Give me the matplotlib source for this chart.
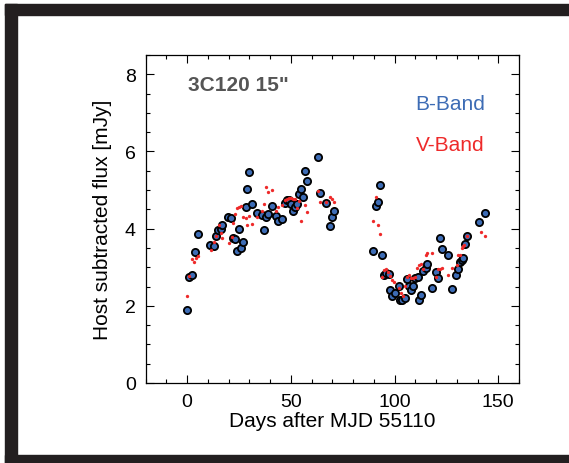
#!/usr/bin/env python3
# -*- coding: utf-8 -*-
"""
Curva de luz 3C120 (apertura 15"), bandas B y V, flujo sin galaxia huésped.
"""
import matplotlib
matplotlib.use('Agg')
import matplotlib.pyplot as plt
from matplotlib.patches import Rectangle

plt.rcParams['font.family'] = ['Liberation Sans', 'DejaVu Sans']

# ── Datos ────────────────────────────────────────────────────────────────────
b_day = [0.1, 1.1, 2.2, 3.9, 5.1, 11.0, 13.1, 13.9, 15.0, 16.2, 17.1, 19.8,
         21.0, 22.2, 23.2, 23.9, 25.0, 26.1, 27.1, 28.2, 29.0, 29.8, 31.1,
         33.8, 36.0, 37.0, 38.0, 38.9, 41.0, 42.8, 43.9, 46.0, 47.0, 48.1,
         49.0, 50.3, 51.0, 52.1, 53.0, 53.9, 55.0, 55.9, 56.9, 58.0, 63.1,
         64.1, 67.0, 68.9, 69.9, 71.0,
         89.8, 90.9, 92.0, 93.0, 93.9, 94.9, 96.1, 97.2, 97.8, 98.9, 100.0,
         102.0, 102.8, 103.8, 104.9, 105.8, 106.9, 107.9, 109.1, 110.0, 111.1,
         111.9, 112.9, 113.9, 115.0, 115.9, 117.9, 119.9, 120.9, 121.7, 123.0,
         125.9, 127.8, 129.7, 130.8, 131.7, 132.3, 132.9, 133.9, 134.7, 140.8,
         143.7]
b_flux = [1.88, 2.75, 2.81, 3.39, 3.85, 3.58, 3.56, 3.81, 3.96, 3.99, 4.10,
          4.31, 4.27, 3.77, 3.73, 3.43, 3.99, 3.49, 3.66, 4.57, 5.02, 5.47,
          4.65, 4.41, 4.36, 3.96, 4.30, 4.39, 4.58, 4.33, 4.21, 4.25, 4.66,
          4.73, 4.75, 4.65, 4.46, 4.55, 4.63, 4.89, 5.03, 4.81, 5.50, 5.24,
          5.85, 4.92, 4.66, 4.08, 4.29, 4.46,
          3.42, 4.59, 4.68, 5.14, 3.33, 2.81, 2.85, 2.82, 2.40, 2.26, 2.33,
          2.52, 2.16, 2.14, 2.19, 2.69, 2.52, 2.42, 2.52, 2.71, 2.75, 2.15,
          2.28, 2.89, 2.97, 3.09, 2.46, 2.87, 2.71, 3.77, 3.46, 3.31, 2.44,
          2.79, 2.96, 3.13, 3.19, 3.23, 3.59, 3.81, 4.18, 4.40]

v_day = [0.1, 0.9, 2.5, 3.3, 4.3, 5.2, 11.4, 13.1, 14.1, 15.2, 16.2, 17.1,
         20.2, 21.5, 22.2, 23.1, 24.0, 25.0, 25.8, 27.2, 28.3, 29.0, 30.1,
         31.1, 33.8, 36.0, 37.0, 38.0, 39.1, 41.0, 42.8, 43.9, 46.0, 47.0,
         48.1, 49.0, 50.0, 51.0, 52.1, 53.0, 54.0, 55.0, 57.1, 58.0, 63.1,
         64.1, 67.0, 68.9, 69.9, 71.0,
         89.8, 90.9, 92.0, 93.0, 93.9, 94.9, 96.1, 97.0, 98.0, 98.9, 99.9,
         102.0, 102.9, 103.9, 105.0, 106.0, 106.9, 107.9, 108.9, 110.0, 111.0,
         111.9, 112.9, 113.9, 115.0, 115.9, 117.9, 119.9, 121.1, 122.0, 123.0,
         125.9, 127.8, 129.9, 130.7, 131.7, 132.3, 132.9, 133.7, 134.7, 141.8,
         143.7]
v_flux = [2.26, 2.76, 3.21, 3.14, 3.24, 3.29, 3.45, 3.66, 3.80, 4.09, 3.90,
          3.77, 3.62, 3.79, 4.15, 4.38, 4.53, 4.56, 4.58, 4.31, 4.27, 4.09,
          4.34, 4.13, 4.30, 4.46, 4.64, 5.07, 4.94, 5.00, 4.45, 4.55, 4.61,
          4.74, 4.77, 4.79, 4.80, 4.78, 4.78, 4.54, 4.72, 4.20, 4.60, 4.43,
          4.97, 4.69, 4.70, 4.83, 4.77, 4.70,
          4.21, 4.81, 4.09, 3.85, 2.74, 2.94, 2.95, 2.87, 2.76, 2.66, 2.61,
          2.45, 2.33, 2.25, 2.52, 2.75, 2.80, 2.71, 2.73, 2.75, 2.99, 3.07,
          3.09, 2.95, 3.33, 3.36, 3.36, 2.74, 2.95, 2.96, 2.97, 2.80, 2.97,
          3.07, 3.32, 3.32, 3.49, 3.56, 3.58, 3.82, 3.92, 3.82]

BLUE = '#3d6cb5'
RED = '#ee2a2a'
FRAME = '#231f20'

W, H = 569, 464
fig = plt.figure(figsize=(W / 100, H / 100), dpi=100)

# ── Marco negro de la figura (bordes izquierdo, superior e inferior) ────────
for (x0, y0, w, h) in [(5, 5, 12, H - 5),        # izquierda
                       (5, 5, W - 5, 11),        # arriba
                       (5, 456, W - 5, H - 456)]: # abajo
    fig.patches.append(Rectangle((x0 / W, 1 - (y0 + h) / H), w / W, h / H,
                                 transform=fig.transFigure, color=FRAME,
                                 zorder=0))

ax = fig.add_axes([145.5 / W, 1 - 384 / H, 373.5 / W, 328 / H])

ax.plot(b_day, b_flux, 'o', ms=5.2, mfc=BLUE, mec='black', mew=1.3, zorder=3)
ax.plot(v_day, v_flux, 'o', ms=2.4, mfc=RED, mec=RED, mew=0, zorder=4)

ax.set_xlim(-20, 160)
ax.set_ylim(0, 8.5)
ax.set_xticks([0, 50, 100, 150])
ax.set_xticks(range(-20, 161, 10), minor=True)
ax.set_yticks([0, 2, 4, 6, 8])
ax.set_yticks([i * 0.5 for i in range(18)], minor=True)
ax.tick_params(which='both', direction='in', top=True, right=True,
               width=0.8, labelsize=14, pad=7)
ax.tick_params(which='major', length=5.5)
ax.tick_params(which='minor', length=3)
for s in ax.spines.values():
    s.set_linewidth(0.9)

ax.set_xlabel('Days after MJD 55110', fontsize=15, labelpad=1)
ax.set_ylabel('Host subtracted flux [mJy]', fontsize=15, labelpad=9)

ax.text(0.114, 0.909, '3C120 15"', transform=ax.transAxes, fontsize=15,
        fontweight='bold', color='#555555', ha='left', va='center')
ax.text(0.909, 0.851, 'B-Band', transform=ax.transAxes, fontsize=15,
        color=BLUE, ha='right', va='center')
ax.text(0.909, 0.726, 'V-Band', transform=ax.transAxes, fontsize=15,
        color=RED, ha='right', va='center')

fig.savefig('out.png', dpi=100)
plt.close(fig)
